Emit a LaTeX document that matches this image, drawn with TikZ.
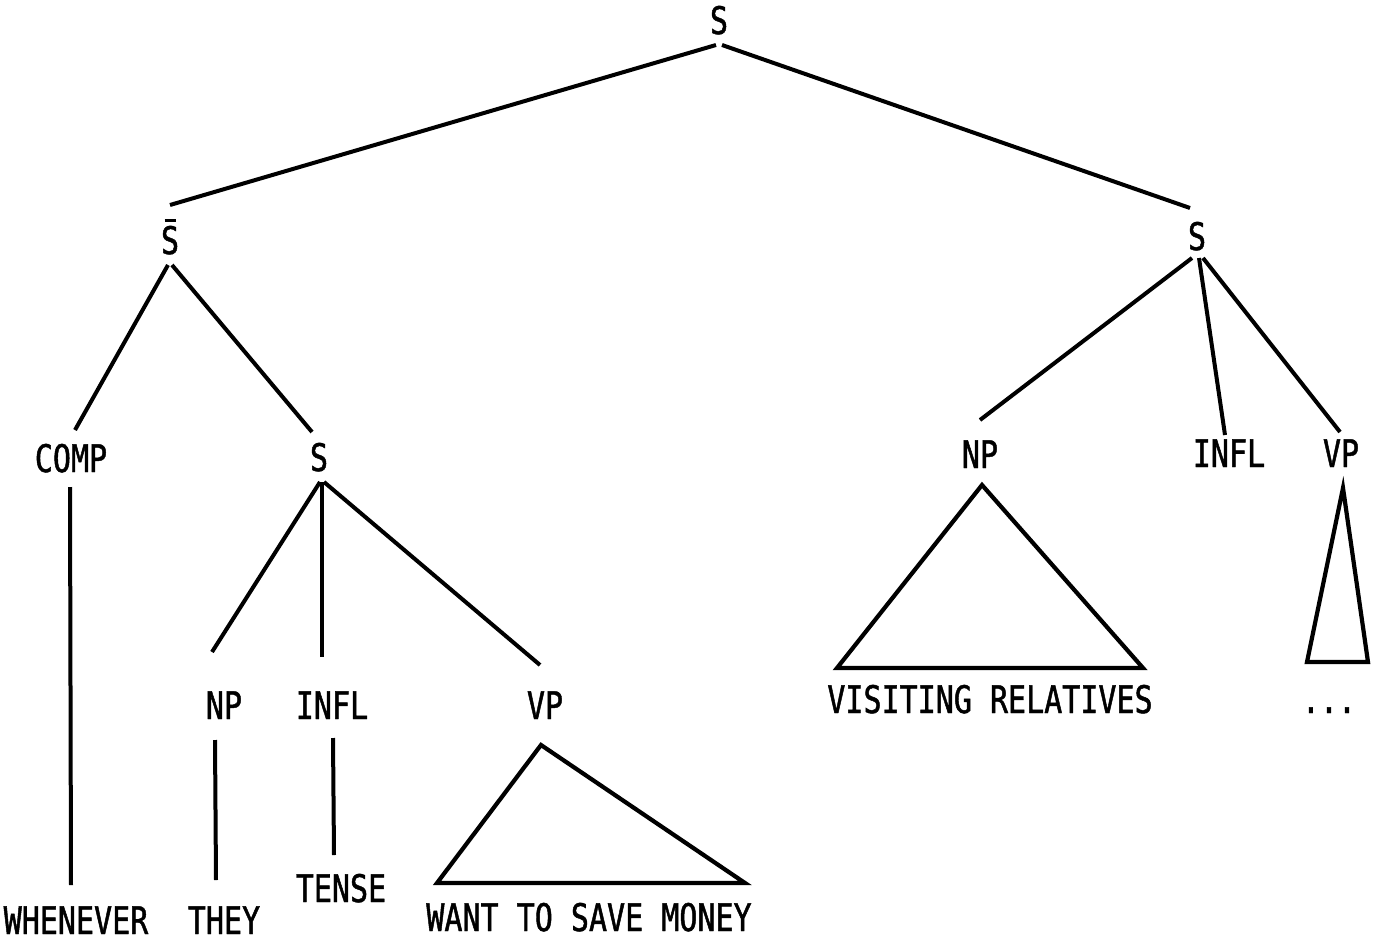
\documentclass[tikz,border=0pt]{standalone}
\usepackage{fontspec}
\newfontfamily\labfont{DejaVu Sans Mono}[FakeStretch=0.79,FakeBold=1.2]
\usetikzlibrary{calc}
\newcommand\mybarS{\vbox{\offinterlineskip\hbox to 18pt{\hfil\rule{11pt}{3pt}\hfil}\kern4pt\hbox to 18pt{\hfil S\hfil}}}
\tikzset{
  lab/.style={anchor=base, inner sep=0pt, font=\labfont\fontsize{38}{40}\selectfont},
  edge/.style={line width=4pt},
  tri/.style={line width=4.2pt, line join=miter}
}
\begin{document}
\begin{tikzpicture}[x=1pt,y=-1pt]
\useasboundingbox (0,0) rectangle (1376,942);
% nodes
\node[lab] (topS) at (719,34) {S};
\node[lab] (sbar) at (170,254) {\mybarS};
\node[lab] (sr) at (1197,250) {S};
\node[lab] (comp) at (71,472) {COMP};
\node[lab] (smid) at (319,471) {S};
\node[lab] (npl) at (224,719) {NP};
\node[lab] (infll) at (332,719) {INFL};
\node[lab] (vpl) at (545,719) {VP};
\node[lab] (whenever) at (76,934) {WHENEVER};
\node[lab] (they) at (224,934) {THEY};
\node[lab] (tense) at (341,902) {TENSE};
\node[lab] (want) at (589,931) {WANT TO SAVE MONEY};
\node[lab] (npr) at (980,468) {NP};
\node[lab] (inflr) at (1229,467) {INFL};
\node[lab] (vpr) at (1341,467) {VP};
\node[lab] (visiting) at (990,713) {VISITING RELATIVES};
\node[lab] (dots) at (1329,713) {...};
% connectors
\draw[edge] ($(topS.base)+(-3,11)$) -- ($(sbar.base)+(0,-49)$);
\draw[edge] ($(topS.base)+(3,11)$) -- ($(sr.base)+(-7,-42)$);
\draw[edge] ($(sbar.base)+(-2,11)$) -- ($(comp.base)+(4,-42)$);
\draw[edge] ($(sbar.base)+(2,11)$) -- ($(smid.base)+(-7,-39)$);
\draw[edge] ($(comp.base)+(-1,15)$) -- ($(whenever.base)+(-5,-49)$);
\draw[edge] ($(smid.base)+(1,11)$) -- ($(npl.base)+(-12,-67)$);
\draw[edge] ($(smid.base)+(3,11)$) -- ($(infll.base)+(-10,-62)$);
\draw[edge] ($(smid.base)+(5,11)$) -- ($(vpl.base)+(-5,-54)$);
\draw[edge] ($(npl.base)+(-9,21)$) -- ($(they.base)+(-8,-54)$);
\draw[edge] ($(infll.base)+(1,19)$) -- ($(tense.base)+(-7,-47)$);
\draw[tri] ($(vpl.base)+(-4,26)$) -- ($(want.base)+(-152,-48)$) -- ($(want.base)+(156,-48)$) -- cycle;
\draw[edge] ($(sr.base)+(-5,8)$) -- ($(npr.base)+(0,-48)$);
\draw[edge] ($(sr.base)+(2,8)$) -- ($(inflr.base)+(-4,-32)$);
\draw[edge] ($(sr.base)+(6,8)$) -- ($(vpr.base)+(-1,-35)$);
\draw[tri] ($(npr.base)+(2,17)$) -- ($(visiting.base)+(-153,-45)$) -- ($(visiting.base)+(153,-45)$) -- cycle;
\draw[tri] ($(vpr.base)+(2,21)$) -- ($(dots.base)+(-22,-51)$) -- ($(dots.base)+(39,-51)$) -- cycle;
\end{tikzpicture}
\end{document}
